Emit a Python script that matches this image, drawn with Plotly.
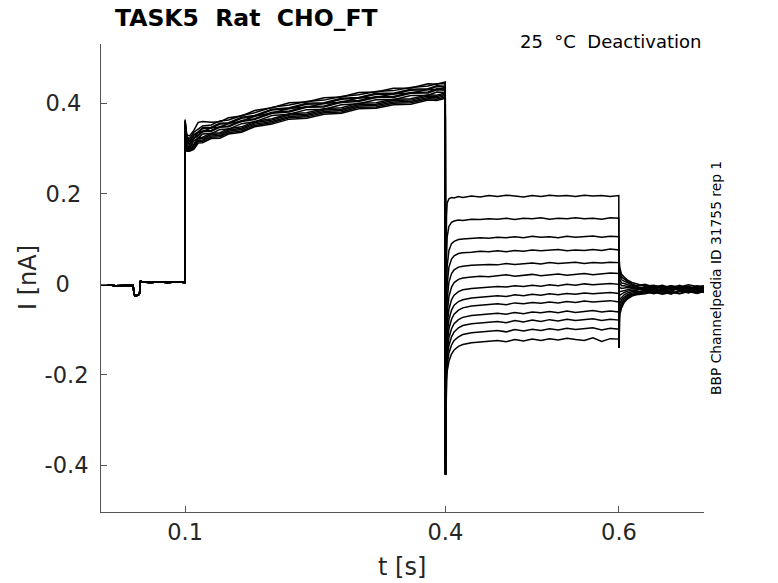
import plotly.graph_objects as go

# ---------------- data ----------------
# holding segment (shared by all sweeps)
base_t = [0.003, 0.01, 0.02, 0.03, 0.04, 0.0408, 0.042, 0.046, 0.0475, 0.048, 0.0485, 0.05, 0.06, 0.07, 0.08, 0.09, 0.0998]
base_i = [-0.002, -0.001, -0.003, -0.002, -0.002, -0.016, -0.026, -0.024, -0.02, -0.002, 0.008, 0.005, 0.004, 0.005, 0.004, 0.005, 0.004]

# pre-pulse segment (0.1 - 0.4 s)
pre_t = [0.1, 0.1006, 0.102, 0.105, 0.11, 0.115, 0.12, 0.13, 0.14, 0.15, 0.165, 0.18, 0.2, 0.22,
         0.24, 0.26, 0.28, 0.3, 0.32, 0.34, 0.36, 0.38, 0.39, 0.3998]
pre_i = [
    [0.362, 0.344, 0.326, 0.322, 0.336, 0.343, 0.350, 0.352, 0.361, 0.363, 0.373, 0.379, 0.391, 0.396, 0.404, 0.407, 0.415, 0.419, 0.426, 0.428, 0.435, 0.438, 0.443, 0.444],
    [0.356, 0.322, 0.299, 0.301, 0.307, 0.321, 0.322, 0.331, 0.332, 0.341, 0.345, 0.357, 0.363, 0.374, 0.376, 0.385, 0.387, 0.397, 0.398, 0.406, 0.407, 0.416, 0.415, 0.420],
    [0.360, 0.337, 0.314, 0.316, 0.322, 0.336, 0.337, 0.346, 0.347, 0.356, 0.360, 0.372, 0.378, 0.389, 0.391, 0.400, 0.402, 0.412, 0.413, 0.421, 0.422, 0.431, 0.430, 0.435],
    [0.352, 0.317, 0.295, 0.295, 0.301, 0.315, 0.316, 0.325, 0.326, 0.335, 0.339, 0.351, 0.357, 0.368, 0.370, 0.379, 0.381, 0.391, 0.392, 0.400, 0.401, 0.410, 0.409, 0.414],
    [0.361, 0.339, 0.323, 0.317, 0.331, 0.337, 0.346, 0.347, 0.356, 0.357, 0.369, 0.373, 0.387, 0.390, 0.400, 0.401, 0.411, 0.413, 0.422, 0.422, 0.431, 0.432, 0.439, 0.438],
    [0.358, 0.325, 0.309, 0.303, 0.317, 0.323, 0.332, 0.333, 0.342, 0.343, 0.355, 0.359, 0.373, 0.376, 0.386, 0.387, 0.397, 0.399, 0.408, 0.408, 0.417, 0.418, 0.425, 0.424],
    [0.364, 0.345, 0.330, 0.328, 0.340, 0.358, 0.360, 0.358, 0.359, 0.368, 0.372, 0.384, 0.390, 0.401, 0.403, 0.412, 0.414, 0.424, 0.425, 0.433, 0.434, 0.443, 0.442, 0.447],
    [0.350, 0.320, 0.296, 0.298, 0.304, 0.318, 0.319, 0.328, 0.329, 0.338, 0.342, 0.354, 0.360, 0.371, 0.373, 0.382, 0.384, 0.394, 0.395, 0.403, 0.404, 0.413, 0.412, 0.417],
    [0.357, 0.330, 0.314, 0.308, 0.322, 0.328, 0.337, 0.338, 0.347, 0.348, 0.360, 0.364, 0.378, 0.381, 0.391, 0.392, 0.402, 0.404, 0.413, 0.413, 0.422, 0.423, 0.430, 0.429],
    [0.355, 0.325, 0.302, 0.304, 0.310, 0.324, 0.325, 0.334, 0.335, 0.344, 0.348, 0.360, 0.366, 0.377, 0.379, 0.388, 0.390, 0.400, 0.401, 0.409, 0.410, 0.419, 0.418, 0.423],
    [0.360, 0.337, 0.321, 0.315, 0.329, 0.335, 0.344, 0.345, 0.354, 0.355, 0.367, 0.371, 0.385, 0.388, 0.398, 0.399, 0.409, 0.411, 0.420, 0.420, 0.429, 0.430, 0.437, 0.436],
    [0.351, 0.316, 0.294, 0.294, 0.298, 0.312, 0.313, 0.322, 0.323, 0.332, 0.336, 0.348, 0.354, 0.365, 0.367, 0.376, 0.378, 0.388, 0.389, 0.397, 0.398, 0.407, 0.406, 0.411],
    [0.359, 0.332, 0.316, 0.310, 0.324, 0.330, 0.339, 0.340, 0.349, 0.350, 0.362, 0.366, 0.380, 0.383, 0.393, 0.394, 0.404, 0.406, 0.415, 0.415, 0.424, 0.425, 0.432, 0.431],
]

# tail (deactivation) segment (0.4 - 0.6 s)
tail_t = [0.4001, 0.4004, 0.4012, 0.402, 0.404, 0.407, 0.41, 0.415, 0.42, 0.43, 0.44, 0.45, 0.46, 0.47,
          0.48, 0.49, 0.5, 0.51, 0.52, 0.53, 0.54, 0.55, 0.56, 0.57, 0.58, 0.59, 0.5998]
tail_i = [
    [-0.420, -0.200, 0.150, 0.180, 0.189, 0.192, 0.191, 0.194, 0.192, 0.195, 0.193, 0.196, 0.194, 0.197, 0.195, 0.193, 0.196, 0.194, 0.197, 0.195, 0.196, 0.194, 0.197, 0.195, 0.196, 0.194, 0.196],
    [-0.420, -0.210, 0.060, 0.105, 0.128, 0.137, 0.140, 0.142, 0.141, 0.144, 0.143, 0.145, 0.144, 0.146, 0.143, 0.146, 0.145, 0.147, 0.144, 0.146, 0.145, 0.147, 0.145, 0.146, 0.144, 0.147, 0.146],
    [-0.420, -0.220, -0.010, 0.040, 0.075, 0.090, 0.095, 0.099, 0.100, 0.101, 0.103, 0.102, 0.104, 0.103, 0.105, 0.103, 0.106, 0.104, 0.105, 0.103, 0.106, 0.104, 0.105, 0.107, 0.104, 0.106, 0.105],
    [-0.420, -0.230, -0.050, 0.000, 0.038, 0.056, 0.063, 0.068, 0.070, 0.071, 0.073, 0.072, 0.074, 0.072, 0.075, 0.073, 0.076, 0.074, 0.075, 0.077, 0.074, 0.076, 0.075, 0.077, 0.075, 0.078, 0.076],
    [-0.420, -0.235, -0.080, -0.035, 0.005, 0.024, 0.032, 0.038, 0.040, 0.042, 0.043, 0.044, 0.043, 0.046, 0.044, 0.045, 0.047, 0.045, 0.048, 0.046, 0.047, 0.049, 0.046, 0.048, 0.047, 0.049, 0.048],
    [-0.420, -0.240, -0.105, -0.065, -0.027, -0.006, 0.004, 0.011, 0.014, 0.016, 0.018, 0.017, 0.019, 0.021, 0.018, 0.020, 0.022, 0.019, 0.021, 0.023, 0.020, 0.022, 0.024, 0.021, 0.023, 0.025, 0.024],
    [-0.420, -0.245, -0.125, -0.090, -0.055, -0.034, -0.024, -0.016, -0.012, -0.009, -0.008, -0.007, -0.005, -0.006, -0.003, -0.005, -0.002, -0.004, -0.001, -0.003, 0.000, -0.002, 0.001, -0.001, 0.000, 0.002, 0.000],
    [-0.420, -0.250, -0.145, -0.112, -0.078, -0.057, -0.046, -0.038, -0.034, -0.030, -0.028, -0.027, -0.025, -0.027, -0.023, -0.025, -0.022, -0.024, -0.021, -0.023, -0.020, -0.022, -0.019, -0.021, -0.020, -0.018, -0.020],
    [-0.420, -0.255, -0.160, -0.130, -0.098, -0.077, -0.066, -0.057, -0.052, -0.048, -0.046, -0.045, -0.043, -0.045, -0.041, -0.043, -0.040, -0.042, -0.039, -0.041, -0.038, -0.040, -0.037, -0.039, -0.038, -0.036, -0.039],
    [-0.420, -0.260, -0.175, -0.148, -0.118, -0.098, -0.087, -0.078, -0.073, -0.069, -0.067, -0.066, -0.064, -0.066, -0.062, -0.065, -0.061, -0.063, -0.060, -0.063, -0.059, -0.062, -0.060, -0.058, -0.061, -0.059, -0.061],
    [-0.420, -0.265, -0.188, -0.163, -0.135, -0.116, -0.105, -0.096, -0.091, -0.087, -0.085, -0.084, -0.082, -0.085, -0.080, -0.083, -0.079, -0.082, -0.078, -0.081, -0.077, -0.080, -0.078, -0.076, -0.080, -0.077, -0.079],
    [-0.420, -0.270, -0.200, -0.178, -0.152, -0.134, -0.124, -0.116, -0.111, -0.107, -0.105, -0.104, -0.102, -0.105, -0.100, -0.103, -0.099, -0.102, -0.098, -0.101, -0.097, -0.100, -0.098, -0.096, -0.101, -0.097, -0.099],
    [-0.420, -0.275, -0.212, -0.192, -0.170, -0.154, -0.145, -0.137, -0.133, -0.129, -0.127, -0.126, -0.124, -0.127, -0.122, -0.125, -0.121, -0.124, -0.120, -0.123, -0.119, -0.122, -0.124, -0.118, -0.126, -0.120, -0.121],
]

# return to holding (0.6 - 0.7 s)
post_t = [0.6, 0.6004, 0.601, 0.603, 0.606, 0.61, 0.615, 0.62, 0.63, 0.64, 0.65, 0.66, 0.67, 0.68, 0.69, 0.698]
post_i = [
    [-0.14, 0.052, 0.036, 0.022, 0.016, 0.009, 0.004, 0.001, -0.004, -0.002, -0.007, -0.003, -0.006, -0.001, -0.005, -0.003],
    [-0.14, 0.040, 0.027, 0.016, 0.011, 0.006, 0.001, -0.003, 0.000, -0.006, -0.002, -0.008, -0.004, -0.009, -0.003, -0.007],
    [-0.14, 0.029, 0.019, 0.010, 0.007, 0.003, -0.002, -0.006, -0.009, -0.004, -0.010, -0.005, -0.011, -0.006, -0.010, -0.005],
    [-0.14, 0.017, 0.010, 0.003, 0.002, 0.000, -0.004, -0.004, -0.002, -0.009, -0.005, -0.012, -0.007, -0.004, -0.011, -0.008],
    [-0.14, 0.006, 0.002, -0.003, -0.003, -0.004, -0.006, -0.008, -0.012, -0.007, -0.014, -0.008, -0.002, -0.010, -0.006, -0.012],
    [-0.14, -0.006, -0.007, -0.009, -0.008, -0.007, -0.008, -0.011, -0.006, -0.013, -0.009, -0.003, -0.012, -0.008, -0.014, -0.009],
    [-0.14, -0.017, -0.016, -0.015, -0.013, -0.011, -0.010, -0.009, -0.014, -0.010, -0.004, -0.013, -0.009, -0.015, -0.008, -0.013],
    [-0.14, -0.029, -0.024, -0.021, -0.018, -0.015, -0.013, -0.013, -0.008, -0.015, -0.011, -0.016, -0.005, -0.012, -0.016, -0.010],
    [-0.14, -0.040, -0.033, -0.028, -0.023, -0.019, -0.016, -0.015, -0.017, -0.011, -0.017, -0.009, -0.014, -0.018, -0.009, -0.015],
    [-0.14, -0.052, -0.042, -0.034, -0.028, -0.023, -0.019, -0.018, -0.013, -0.018, -0.012, -0.019, -0.016, -0.011, -0.017, -0.014],
    [-0.14, -0.063, -0.050, -0.040, -0.032, -0.026, -0.022, -0.020, -0.019, -0.014, -0.020, -0.015, -0.020, -0.014, -0.019, -0.012],
    [-0.14, -0.075, -0.059, -0.046, -0.036, -0.029, -0.024, -0.021, -0.016, -0.021, -0.016, -0.022, -0.013, -0.019, -0.013, -0.018],
    [-0.14, -0.086, -0.067, -0.052, -0.040, -0.032, -0.026, -0.023, -0.021, -0.017, -0.022, -0.018, -0.021, -0.016, -0.020, -0.016],
]

NB = "\u00a0"
x_tickvals = [0.1, 0.4, 0.6]
x_ticktext = ["0.1", "0.4", "0.6"]
y_tickvals = [-0.4, -0.2, 0, 0.2, 0.4]
y_ticktext = ["-0.4", "-0.2", "0" + NB * 2 + "\u2009", "0.2" + NB, "0.4" + NB]

title_text = "TASK5" + NB * 2 + "Rat" + NB * 2 + "CHO_FT"
cond_text = "25" + NB * 2 + "\u00b0C" + NB * 2 + "Deactivation"
side_text = "BBP Channelpedia ID 31755 rep 1"

# ---------------- figure ----------------
FONT = "DejaVu Sans"
fig = go.Figure()
for k in range(len(pre_i)):
    fig.add_trace(go.Scatter(
        x=base_t + pre_t + tail_t + post_t,
        y=base_i + pre_i[k] + tail_i[k] + post_i[k],
        mode="lines", line=dict(color="black", width=1.5),
        showlegend=False, hoverinfo="skip"))

W, H = 778, 583
L, R, T, B = 101, 74, 44, 71
fig.update_layout(
    width=W, height=H,
    margin=dict(l=L, r=R, t=T, b=B, pad=0),
    paper_bgcolor="white", plot_bgcolor="white",
    font=dict(family=FONT, color="#262626"),
    xaxis=dict(range=[0.003, 0.698], tickvals=x_tickvals, ticktext=x_ticktext,
               showgrid=False, zeroline=False, showline=True, linecolor="#555555", linewidth=1,
               ticks="inside", ticklen=6, tickcolor="#555555",
               tickfont=dict(size=22.5, color="#262626", family=FONT), ticklabelstandoff=0),
    yaxis=dict(range=[-0.503, 0.531], tickvals=y_tickvals, ticktext=y_ticktext,
               showgrid=False, zeroline=False, showline=True, linecolor="#555555", linewidth=1,
               ticks="inside", ticklen=6, tickcolor="#555555",
               tickfont=dict(size=22.5, color="#262626", family=FONT), ticklabelstandoff=7),
)

pw, ph = W - L - R, H - T - B
def px(xp):  # window pixel -> paper x
    return (xp - L) / pw
def py(yp):  # window pixel -> paper y
    return (H - B - yp) / ph

fig.add_annotation(text="<b>" + title_text + "</b>", x=px(113), y=py(18), xref="paper", yref="paper",
                   xanchor="left", yanchor="middle", showarrow=False,
                   font=dict(size=23.5, color="black", family=FONT))
fig.add_annotation(text=cond_text, x=px(703), y=py(41), xref="paper", yref="paper",
                   xanchor="right", yanchor="middle", showarrow=False,
                   font=dict(size=18, color="black", family=FONT))
fig.add_annotation(text=side_text, x=px(716), y=py(278), xref="paper", yref="paper",
                   xanchor="center", yanchor="middle", textangle=-90, showarrow=False,
                   font=dict(size=13.8, color="black", family=FONT))
fig.add_annotation(text="I [nA]", x=px(28), y=py(278), xref="paper", yref="paper",
                   xanchor="center", yanchor="middle", textangle=-90, showarrow=False,
                   font=dict(size=24, color="#262626", family=FONT))
fig.add_annotation(text="t [s]", x=px(402), y=py(567), xref="paper", yref="paper",
                   xanchor="center", yanchor="middle", showarrow=False,
                   font=dict(size=24, color="#262626", family=FONT))

# remove the browser's default 8 px page margin so the figure fills the window exactly
fig.write_html("out.html", config={"displayModeBar": False},
               post_script="document.body.style.margin='0';document.body.style.overflow='hidden';")
